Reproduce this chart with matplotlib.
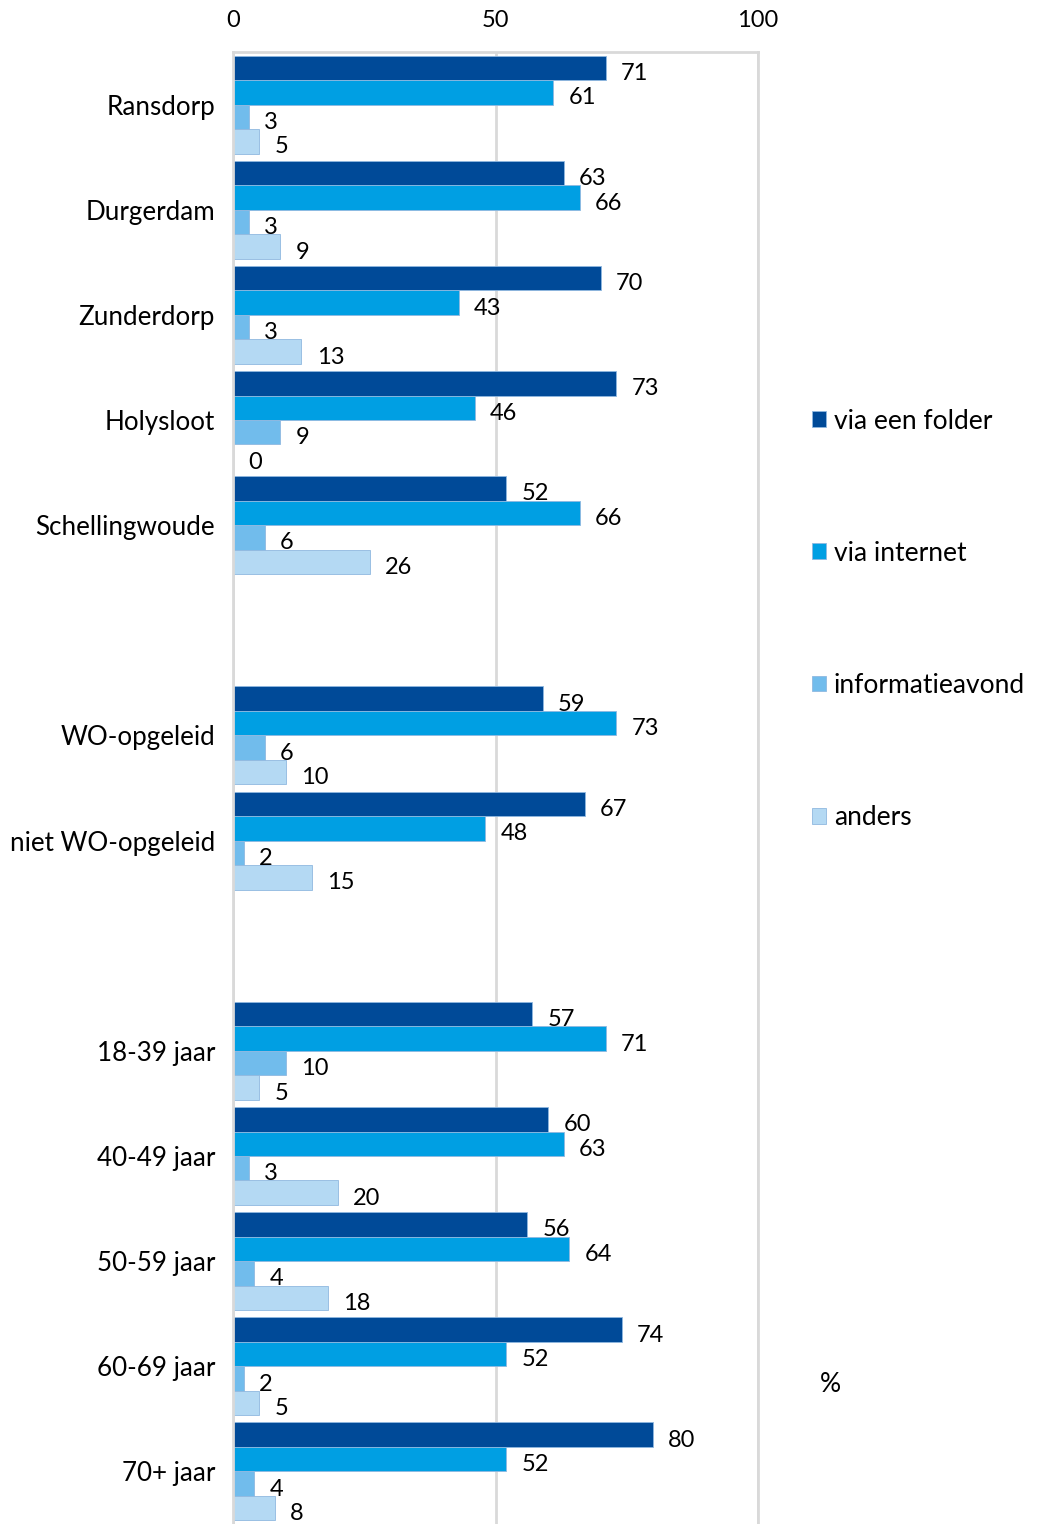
import numpy as np
import matplotlib.pyplot as plt

plt.rcParams['font.family'] = ['Lato', 'DejaVu Sans']

categories = ['Ransdorp', 'Durgerdam', 'Zunderdorp', 'Holysloot', 'Schellingwoude',
              'WO-opgeleid', 'niet WO-opgeleid',
              '18-39 jaar', '40-49 jaar', '50-59 jaar', '60-69 jaar', '70+ jaar']
# slot of each category (empty slot between the groups)
slots = [0, 1, 2, 3, 4, 6, 7, 9, 10, 11, 12, 13]

series = ['via een folder', 'via internet', 'informatieavond', 'anders']
folder = [71, 63, 70, 73, 52, 59, 67, 57, 60, 56, 74, 80]
internet = [61, 66, 43, 46, 66, 73, 48, 71, 63, 64, 52, 52]
infoavond = [3, 3, 3, 9, 6, 6, 2, 10, 3, 4, 2, 4]
anders = [5, 9, 13, 0, 26, 10, 15, 5, 20, 18, 5, 8]

colors = ['#004A98', '#009FE3', '#71BCEC', '#B4D9F3']
values = [folder, internet, infoavond, anders]

fig = plt.figure(figsize=(10.37, 15.24), dpi=100)
ax = fig.add_axes([233/1037, 0.0, (758-233)/1037, (1524-52)/1524])

y = np.array(slots, dtype=float)
h = 0.233
for i, (name, vals, c) in enumerate(zip(series, values, colors)):
    pos = y + (i - 1.5) * h
    ax.barh(pos, vals, height=h, color=c, edgecolor='#8FB8E0', linewidth=0.6, label=name)
    for p, v in zip(pos, vals):
        ax.annotate(str(v), (v, p), xytext=(11, -4), textcoords='offset points',
                    ha='left', va='center', fontsize=17, color='black')

ax.set_xlim(0, 100)
ax.set_ylim(13.5, -0.5)
ax.set_yticks(slots)
ax.set_yticklabels(categories, fontsize=18.7)
ax.set_xticks([0, 50, 100])
ax.xaxis.tick_top()
ax.tick_params(axis='x', length=0, pad=15, labelsize=17)
ax.tick_params(axis='y', length=0, pad=13)
ax.grid(axis='x', color='#D9D9D9', linewidth=2)
ax.set_axisbelow(True)
for s in ['top', 'left', 'right']:
    ax.spines[s].set_color('#D9D9D9')
    ax.spines[s].set_linewidth(2)
ax.spines['bottom'].set_visible(False)

fig.legend(loc='upper left', bbox_to_anchor=(801/1037, 1 - 398/1524), frameon=False,
           fontsize=19, handlelength=0.55, handleheight=0.55, handletextpad=0.3,
           labelspacing=4.06, borderaxespad=0)
fig.text(830/1037, 1 - 1385/1524, '%', fontsize=19, ha='center', va='center')

fig.savefig('out.png', dpi=100)
